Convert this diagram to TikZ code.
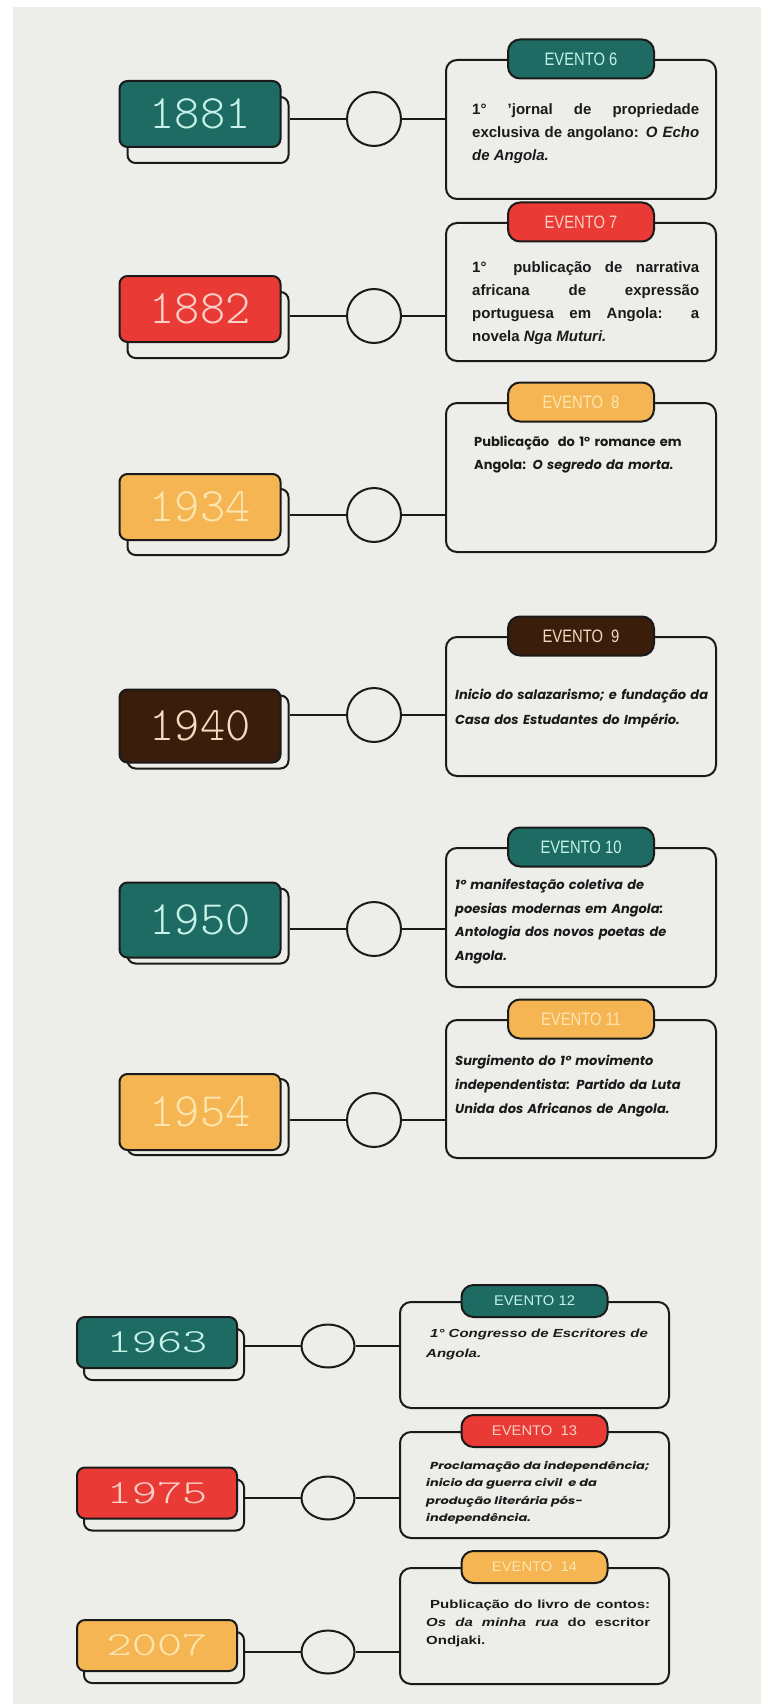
\documentclass[tikz,border=0pt]{standalone}
\usepackage{fontspec}
\usepackage{tikz}
\usetikzlibrary{shapes.geometric}
\setmainfont{Liberation Sans}
\newfontfamily\yearfont{Latin Modern Mono Light}
\newfontfamily\pillfont{Liberation Sans}[FakeStretch=0.82]
\newfontfamily\geofont{Poppins}
\definecolor{ink}{HTML}{1A1A1A}
\definecolor{paper}{HTML}{EDEDEA}
\definecolor{tealbox}{HTML}{1D6B62}
\definecolor{redbox}{HTML}{EA3A35}
\definecolor{goldbox}{HTML}{F6B553}
\definecolor{brownbox}{HTML}{3B1D0C}
\definecolor{tealtxt}{HTML}{C6F2E8}
\definecolor{redtxt}{HTML}{FAD0C6}
\definecolor{goldtxt}{HTML}{FBE6B0}
\definecolor{browntxt}{HTML}{F4DDBF}
\tikzstyle{yearbox}=[rectangle,draw=ink,line width=2pt,rounded corners=8pt,
                     inner sep=0pt,minimum width=161pt,minimum height=66pt,
                     font=\yearfont\fontsize{48}{48}\selectfont]
\tikzstyle{yearshadow}=[rectangle,draw=ink,fill=paper,line width=2pt,
                        rounded corners=8pt,inner sep=0pt,
                        minimum width=161pt,minimum height=66pt]
\tikzstyle{dot}=[circle,draw=ink,fill=paper,line width=2pt,
                 inner sep=0pt,minimum size=54pt]
\tikzstyle{flatdot}=[ellipse,draw=ink,fill=paper,line width=2pt,
                     inner sep=0pt,minimum width=53pt,minimum height=43pt]
\tikzstyle{evbox}=[rectangle,draw=ink,line width=2pt,rounded corners=11pt,
                   inner sep=0pt,minimum width=270pt]
\tikzstyle{pill}=[rectangle,draw=ink,line width=2pt,rounded corners=12pt,
                  inner sep=0pt,minimum width=146pt,minimum height=39pt,
                  font=\pillfont\fontsize{18}{18}\selectfont]
\tikzstyle{evtext}=[anchor=north west,inner sep=0pt,text=ink]
\tikzstyle{link}=[draw=ink,line width=2pt]
\newcommand{\sq}[1]{\scalebox{1}[0.78]{#1}}

\begin{document}
\begin{tikzpicture}[x=1pt,y=-1pt]
    \useasboundingbox (0,0) rectangle (761,1704);
    \fill[white] (0,0) rectangle (761,1704);
    \fill[paper] (13,7) rectangle (761,1704);

    % 1881
    \node (s1) at (208,130) [yearshadow]{};
    \node (y1) at (200,114) [yearbox,fill=tealbox,text=tealtxt]{1881};
    \node (d1) at (374,119) [dot]{};
    \node (e1) at (581,129.5) [evbox,minimum height=139pt]{};
    \node (p1) at (e1.north) [pill,fill=tealbox,text=tealtxt]{EVENTO 6};
    \node (t1) at (472,103) [evtext,text width=227pt,align=justify,
        font=\bfseries\fontsize{15}{23}\selectfont]
        {1° 'jornal de propriedade\linebreak exclusiva de angolano: \textit{O Echo}\linebreak \textit{de Angola.}};
    \draw[link] (d1.west) -- (d1.west -| s1.east);
    \draw[link] (d1.east) -- (d1.east -| e1.west);

    % 1882
    \node (s2) at (208,325) [yearshadow]{};
    \node (y2) at (200,309) [yearbox,fill=redbox,text=redtxt]{1882};
    \node (d2) at (374,316) [dot]{};
    \node (e2) at (581,292) [evbox,minimum height=138pt]{};
    \node (p2) at (e2.north) [pill,fill=redbox,text=redtxt]{EVENTO 7};
    \node (t2) at (472,261) [evtext,text width=227pt,align=justify,
        font=\bfseries\fontsize{15}{23.3}\selectfont]
        {1°\ \ publicação de narrativa\linebreak africana de expressão\linebreak portuguesa em Angola: a\linebreak novela \textit{Nga Muturi.}};
    \draw[link] (d2.west) -- (d2.west -| s2.east);
    \draw[link] (d2.east) -- (d2.east -| e2.west);

    % 1934
    \node (s3) at (208,522) [yearshadow]{};
    \node (y3) at (200,507) [yearbox,fill=goldbox,text=goldtxt]{1934};
    \node (d3) at (374,515) [dot]{};
    \node (e3) at (581,477.5) [evbox,minimum height=149pt]{};
    \node (p3) at (e3.north) [pill,fill=goldbox,text=goldtxt]{EVENTO\ \ 8};
    \node (t3) at (474,436) [evtext,text width=230pt,align=left,
        font=\geofont\bfseries\fontsize{13}{23}\selectfont]
        {Publicação\ \ do 1° romance em\\ Angola: \textit{O segredo da morta.}};
    \draw[link] (d3.west) -- (d3.west -| s3.east);
    \draw[link] (d3.east) -- (d3.east -| e3.west);

    % 1940
    \node (s4) at (208,732) [yearshadow,minimum height=73pt]{};
    \node (y4) at (200,726) [yearbox,minimum height=73pt,fill=brownbox,text=browntxt]{1940};
    \node (d4) at (374,715) [dot]{};
    \node (e4) at (581,706.5) [evbox,minimum height=139pt]{};
    \node (p4) at (e4.north) [pill,fill=brownbox,text=browntxt]{EVENTO\ \ 9};
    \node (t4) at (455,689) [evtext,text width=260pt,align=left,
        font=\geofont\bfseries\itshape\fontsize{13}{25}\selectfont]
        {Inicio do salazarismo; e fundação da\\ Casa dos Estudantes do Império.};
    \draw[link] (d4.west) -- (d4.west -| s4.east);
    \draw[link] (d4.east) -- (d4.east -| e4.west);

    % 1950
    \node (s5) at (208,926) [yearshadow,minimum height=75pt]{};
    \node (y5) at (200,920) [yearbox,minimum height=75pt,fill=tealbox,text=tealtxt]{1950};
    \node (d5) at (374,929) [dot]{};
    \node (e5) at (581,917.5) [evbox,minimum height=139pt]{};
    \node (p5) at (e5.north) [pill,fill=tealbox,text=tealtxt]{EVENTO 10};
    \node (t5) at (455,879) [evtext,text width=260pt,align=left,
        font=\geofont\bfseries\itshape\fontsize{13}{23.5}\selectfont]
        {1° manifestação coletiva de\\ poesias modernas em Angola:\\ Antologia dos novos poetas de\\ Angola.};
    \draw[link] (d5.west) -- (d5.west -| s5.east);
    \draw[link] (d5.east) -- (d5.east -| e5.west);

    % 1954
    \node (s6) at (208,1117) [yearshadow,minimum height=76pt]{};
    \node (y6) at (200,1112) [yearbox,minimum height=76pt,fill=goldbox,text=goldtxt]{1954};
    \node (d6) at (374,1120) [dot]{};
    \node (e6) at (581,1089) [evbox,minimum height=138pt]{};
    \node (p6) at (e6.north) [pill,fill=goldbox,text=goldtxt]{EVENTO 11};
    \node (t6) at (455,1055) [evtext,text width=260pt,align=left,
        font=\geofont\bfseries\itshape\fontsize{13}{24}\selectfont]
        {Surgimento do 1° movimento\\ independentista: Partido da Luta\\ Unida dos Africanos de Angola.};
    \draw[link] (d6.west) -- (d6.west -| s6.east);
    \draw[link] (d6.east) -- (d6.east -| e6.west);

    % 1963
    \node (s7) at (164,1354.5) [yearshadow,minimum width=160pt,minimum height=51pt]{};
    \node (y7) at (157,1342.5) [yearbox,minimum width=160pt,minimum height=51pt,
        fill=tealbox,text=tealtxt]{\scalebox{1}[0.7]{1963}};
    \node (d7) at (328,1346) [flatdot]{};
    \node (e7) at (534.5,1355) [evbox,minimum width=269pt,minimum height=106pt]{};
    \node (p7) at (e7.north) [pill,minimum height=32pt,fill=tealbox,text=tealtxt]{\sq{EVENTO 12}};
    \node (t7) at (426,1329) [evtext]
        {\sq{\parbox[t]{230pt}{\raggedright\bfseries\itshape\fontsize{15}{25}\selectfont
        \hspace*{4pt}1° Congresso de Escritores de\\ Angola.}}};
    \draw[link] (d7.west) -- (d7.west -| s7.east);
    \draw[link] (d7.east) -- (d7.east -| e7.west);

    % 1975
    \node (s8) at (164,1505) [yearshadow,minimum width=160pt,minimum height=51pt]{};
    \node (y8) at (157,1493) [yearbox,minimum width=160pt,minimum height=51pt,
        fill=redbox,text=redtxt]{\scalebox{1}[0.7]{1975}};
    \node (d8) at (328,1498) [flatdot]{};
    \node (e8) at (534.5,1485) [evbox,minimum width=269pt,minimum height=106pt]{};
    \node (p8) at (e8.north) [pill,minimum height=32pt,fill=redbox,text=redtxt]{\sq{EVENTO\ \ 13}};
    \node (t8) at (426,1461) [evtext]
        {\sq{\parbox[t]{235pt}{\raggedright\geofont\bfseries\itshape\fontsize{13}{22.5}\selectfont
        \hspace*{4pt}Proclamação da independência;\\ inicio da guerra civil\ \ e da\\
        produção literária pós-\\ independência.}}};
    \draw[link] (d8.west) -- (d8.west -| s8.east);
    \draw[link] (d8.east) -- (d8.east -| e8.west);

    % 2007
    \node (s9) at (164,1657.5) [yearshadow,minimum width=160pt,minimum height=51pt]{};
    \node (y9) at (157,1645.5) [yearbox,minimum width=160pt,minimum height=51pt,
        fill=goldbox,text=goldtxt]{\scalebox{1}[0.7]{2007}};
    \node (d9) at (328,1652) [flatdot]{};
    \node (e9) at (534.5,1626) [evbox,minimum width=269pt,minimum height=116pt]{};
    \node (p9) at (e9.north) [pill,minimum height=32pt,fill=goldbox,text=goldtxt]{\sq{EVENTO\ \ 14}};
    \node (t9) at (426,1600) [evtext]
        {\sq{\parbox[t]{224pt}{\bfseries\fontsize{15}{23}\selectfont
        \hspace*{4pt}Publicação do livro de contos:\linebreak \textit{Os da minha rua} do escritor\linebreak Ondjaki.}}};
    \draw[link] (d9.west) -- (d9.west -| s9.east);
    \draw[link] (d9.east) -- (d9.east -| e9.west);
\end{tikzpicture}
\end{document}
